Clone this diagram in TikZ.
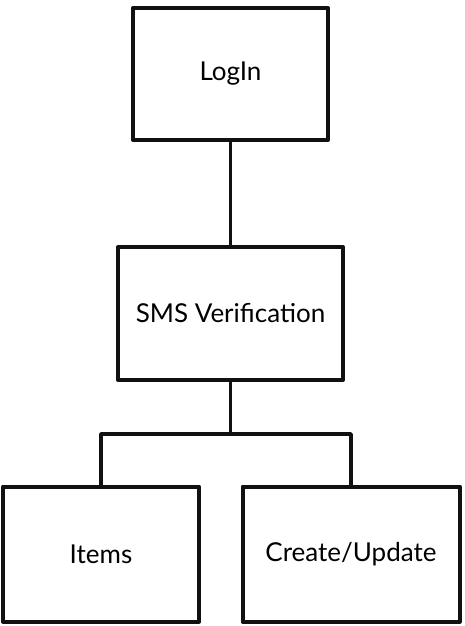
\documentclass[tikz,border=0pt]{standalone}
\usepackage{fontspec}
\setmainfont{Lato}
\usepackage{xcolor}
\definecolor{ink}{HTML}{111111}

\begin{document}
\begin{tikzpicture}[x=1pt,y=-1pt,line cap=round,line join=round]
  \tikzset{
    screen/.style={draw=ink,line width=4pt,fill=white,inner sep=0pt,
      font=\fontsize{26}{30}\selectfont},
    link/.style={draw=ink,line width=3.6pt}
  }
  \useasboundingbox (0,0) rectangle (464,626);

  % Screens of the app flow.
  \node[screen,minimum width=195pt,minimum height=132pt] (login) at (230.5,74) {LogIn};
  \node[screen,minimum width=225pt,minimum height=133pt] (sms) at (230.5,313.5) {SMS Verification};
  \node[screen,minimum width=196pt,minimum height=135pt] (items) at (101,554) {Items};
  \node[screen,minimum width=217pt,minimum height=135pt] (create) at (351,554) {Create/Update};

  % Tree connectors.
  \coordinate (split) at (230.5,434);
  \draw[link] (login.south) -- (sms.north);
  \draw[link] (sms.south) -- (split);
  \draw[link] (items.north) |- (split) -| (create.north);
\end{tikzpicture}
\end{document}
